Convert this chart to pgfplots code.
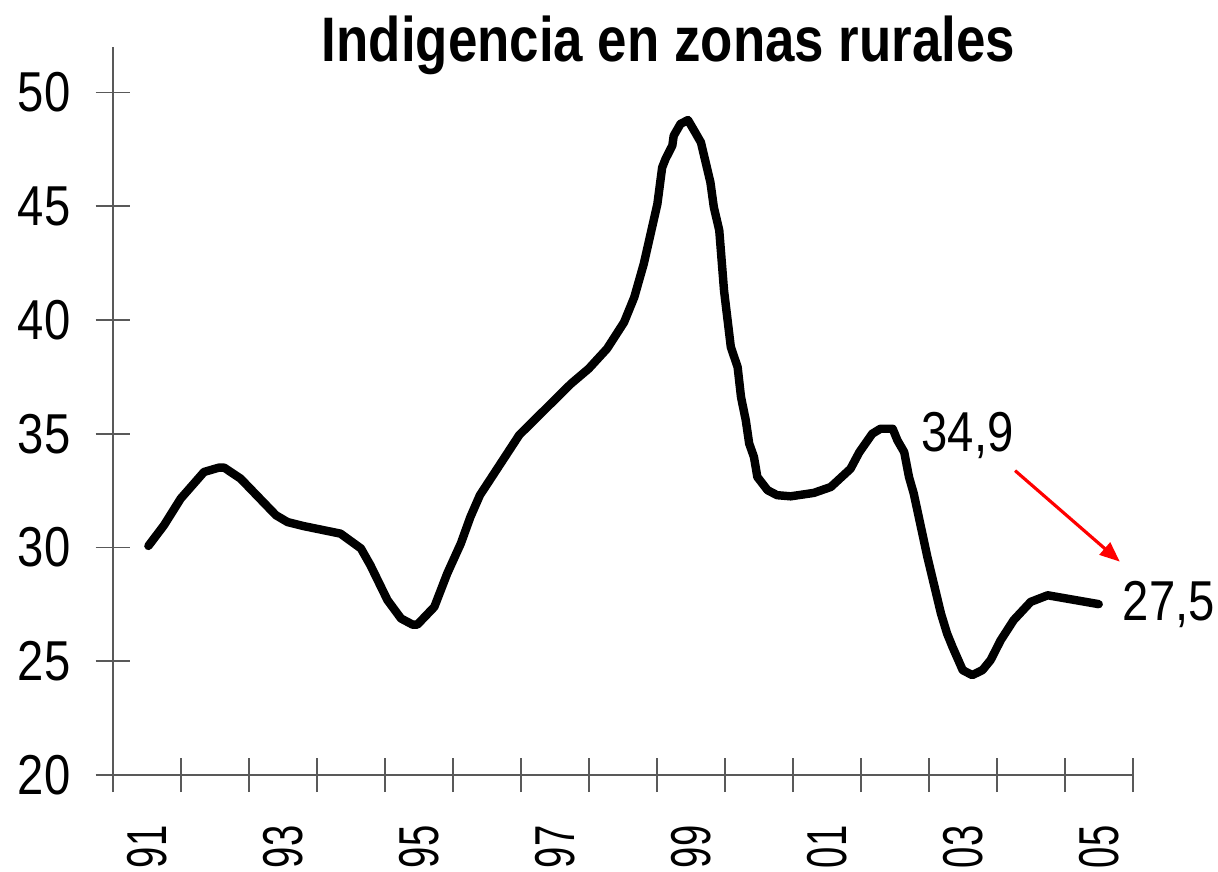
\documentclass[border=0pt]{standalone}
\usepackage{fontspec}
\setmainfont{Liberation Sans}[FakeStretch=0.84]
\newfontfamily\narrowfont{Liberation Sans}[FakeStretch=0.68]
\usepackage{pgfplots}
\pgfplotsset{compat=1.18}
\usetikzlibrary{arrows.meta}

% indigencia rural, 1991-2005 (one category per year)
\pgfplotstableread{
x      y
0.525  30.07
0.755  30.98
1.00   32.15
1.343  33.32
1.56   33.51
1.64   33.51
1.88   33.03
2.40   31.42
2.57   31.12
2.81   30.94
3.35   30.61
3.65   29.96
3.79   29.22
4.04   27.69
4.24   26.88
4.41   26.61
4.48   26.61
4.73   27.39
4.92   28.86
5.12   30.18
5.26   31.34
5.40   32.30
5.56   33.03
5.98   34.95
6.74   37.20
7.00   37.86
7.27   38.74
7.52   39.90
7.67   41.00
7.81   42.47
8.01   45.10
8.08   46.70
8.13   47.08
8.23   47.67
8.25   48.10
8.35   48.62
8.46   48.79
8.55   48.33
8.65   47.81
8.72   46.93
8.79   46.05
8.84   44.96
8.92   43.94
8.99   41.30
9.09   38.81
9.19   37.93
9.24   36.61
9.31   35.59
9.36   34.57
9.43   33.98
9.48   33.10
9.63   32.52
9.77   32.30
9.97   32.25
10.31  32.40
10.56  32.66
10.85  33.46
10.98  34.19
11.17  35.00
11.29  35.22
11.47  35.22
11.54  34.71
11.64  34.19
11.71  33.10
11.78  32.37
11.98  29.59
12.18  27.10
12.27  26.22
12.35  25.63
12.50  24.61
12.64  24.39
12.79  24.61
12.91  25.05
13.06  25.93
13.25  26.81
13.50  27.61
13.75  27.90
14.50  27.51
}\indigencia

\begin{document}
\begin{tikzpicture}
\useasboundingbox (0,0) rectangle (12.18,8.71);
\node[anchor=base, font=\fontsize{17.9}{20}\selectfont\bfseries] at (6.685,8.093) {Indigencia en zonas rurales};
\begin{axis}[
    at={(1.127cm,0.96cm)}, anchor=south west,
    scale only axis,
    width=10.2cm, height=7.28cm,
    xmin=0, xmax=15,
    ymin=20, ymax=52,
    axis x line=bottom, axis y line=left,
    axis line style={-, black!65, line width=0.55pt},
    tick style={black!65, line width=0.55pt},
    tick align=center,
    major tick length=0.34cm,
    xtick={0,1,...,15},
    xticklabels={},
    extra x ticks={0.5,2.5,...,14.5},
    extra x tick labels={91,93,95,97,99,01,03,05},
    extra x tick style={tick style={draw=none}},
    ytick={20,25,...,50},
    yticklabels={20,25,30,35,40,45,50},
    yticklabel style={anchor=east, inner sep=0pt, xshift=-0.247cm, font=\fontsize{16}{16}\selectfont},
    xticklabel style={yshift=-0.33cm, rotate=90, anchor=east, inner sep=0pt, font=\fontsize{16}{16}\selectfont\narrowfont},
    clip=false,
]
\addplot[black, line width=2.4pt, line join=round, line cap=round] table[x=x, y=y] {\indigencia};
\node[anchor=base, font=\fontsize{16}{16}\selectfont] at (axis cs:12.57,34.2) {34,9};
\node[anchor=base, font=\fontsize{16}{16}\selectfont] at (axis cs:15.53,26.81) {27,5};
\draw[red, line width=0.9pt, -{Triangle[length=0.2cm, width=0.16cm]}] (axis cs:13.27,33.38) -- (axis cs:14.81,29.38);
\end{axis}
\end{tikzpicture}
\end{document}
